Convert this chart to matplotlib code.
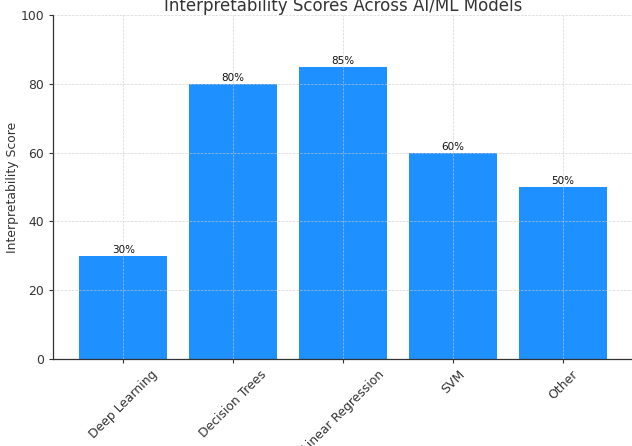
import matplotlib
matplotlib.use("Agg")
import matplotlib.pyplot as plt

models = ['Deep Learning', 'Decision Trees', 'Linear Regression', 'SVM', 'Other']
scores = [30, 80, 85, 60, 50]

fig = plt.figure(figsize=(6.32, 4.46), dpi=100)
ax = fig.add_axes([0.0839, 0.195, 0.918, 0.771])

bars = ax.bar(models, scores, color='dodgerblue', width=0.8)
for b, s in zip(bars, scores):
    ax.text(b.get_x() + b.get_width() / 2, s + 0.3, f'{s}%', ha='center', va='bottom',
            fontsize=7.5, color='#111111')

ax.set_ylim(0, 100)
ax.set_yticks([0, 20, 40, 60, 80, 100])
ax.set_title('Interpretability Scores Across AI/ML Models', fontsize=12, color='#333333', pad=0)
ax.set_ylabel('Interpretability Score', fontsize=8.9, color='#333333', labelpad=1)
ax.tick_params(axis='both', labelsize=8.9, colors='#333333', length=3)
plt.setp(ax.get_xticklabels(), rotation=45, ha='center')

ax.grid(True, linestyle='--', linewidth=0.5, color='#cccccc', alpha=0.8)
ax.set_axisbelow(False)
ax.spines['top'].set_visible(False)
ax.spines['right'].set_visible(False)
for sp in ['left', 'bottom']:
    ax.spines[sp].set_color('#333333')
    ax.spines[sp].set_linewidth(0.9)

fig.savefig('out.png', dpi=100)
